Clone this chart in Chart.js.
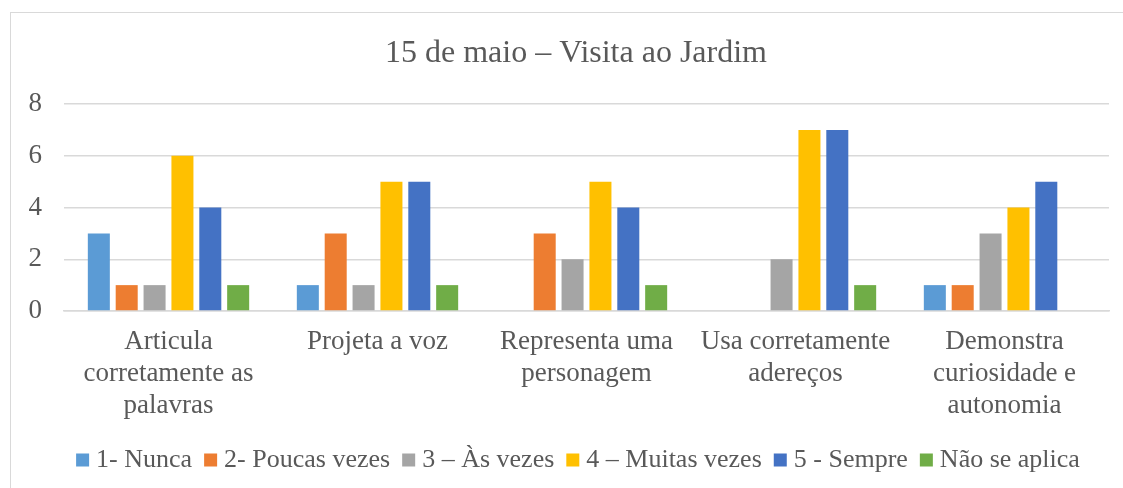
<!DOCTYPE html>
<html>
<head>
<meta charset="utf-8">
<script src="https://cdn.jsdelivr.net/npm/chart.js@4/dist/chart.umd.min.js"></script>
<style>
  html, body { margin: 0; padding: 0; background: #fff; overflow: hidden; width: 1123px; height: 488px; }
  #wrap { position: absolute; left: 10px; top: 12px; width: 1130px; height: 476px;
          border-left: 1.5px solid #D9D9D9; border-top: 1.5px solid #D9D9D9; box-sizing: border-box; }
  canvas { display: block; }
</style>
</head>
<body>
<div id="wrap"><canvas id="c" width="1130" height="476"></canvas></div>
<script>
const titleText = '15 de maio \u2013 Visita ao Jardim';
const categories = [
  ['Articula', 'corretamente as', 'palavras'],
  ['Projeta a voz'],
  ['Representa uma', 'personagem'],
  ['Usa corretamente', 'adere\u00e7os'],
  ['Demonstra', 'curiosidade e', 'autonomia']
];
const seriesNames = ['1- Nunca', '2- Poucas vezes', '3 \u2013 \u00c0s vezes', '4 \u2013 Muitas vezes', '5 - Sempre', 'N\u00e3o se aplica'];
const nunca        = [3, 1, 0, 0, 1];
const poucasVezes  = [1, 3, 3, 0, 1];
const asVezes      = [1, 1, 2, 2, 3];
const muitasVezes  = [6, 5, 5, 7, 4];
const sempre       = [4, 5, 4, 7, 5];
const naoSeAplica  = [1, 1, 1, 1, 0];
const yTicks = [0, 2, 4, 6, 8];

const colors = ['#5B9BD5', '#ED7D31', '#A5A5A5', '#FFC000', '#4472C4', '#70AD47'];
const seriesData = [nunca, poucasVezes, asVezes, muitasVezes, sempre, naoSeAplica];
const FONT = "'Liberation Serif', 'Times New Roman', serif";
const TXT = '#595959';

const textPlugin = {
  id: 'titleAndLegend',
  afterDraw(chart) {
    const ctx = chart.ctx;
    ctx.save();
    // title
    ctx.font = '32px ' + FONT;
    ctx.textBaseline = 'middle';
    ctx.textAlign = 'center';
    ctx.fillStyle = TXT;
    ctx.fillText(titleText, chart.width / 2, 41);
    // legend
    ctx.font = '26px ' + FONT;
    ctx.textAlign = 'left';
    const box = 13, gapBT = 7, gapItems = 12;
    const items = chart.data.datasets.map(d => ({ label: d.label, color: d.backgroundColor, w: ctx.measureText(d.label).width }));
    let total = items.reduce((s, it) => s + box + gapBT + it.w, 0) + gapItems * (items.length - 1);
    let x = chart.width / 2 + 2 - total / 2;
    const cy = chart.height - 29;
    items.forEach(it => {
      ctx.fillStyle = it.color;
      ctx.fillRect(x, cy - box / 2, box, box);
      x += box + gapBT;
      ctx.fillStyle = TXT;
      ctx.fillText(it.label, x, cy);
      x += it.w + gapItems;
    });
    ctx.restore();
  }
};

function build() {
  new Chart(document.getElementById('c'), {
    type: 'bar',
    data: {
      labels: categories,
      datasets: seriesNames.map((n, i) => ({
        label: n,
        data: seriesData[i],
        backgroundColor: colors[i],
        borderWidth: 0,
        categoryPercentage: 0.8,
        barPercentage: 0.79
      }))
    },
    options: {
      responsive: false,
      animation: false,
      devicePixelRatio: 1,
      layout: { padding: { left: 0, right: 32, top: 91, bottom: 48 } },
      plugins: {
        legend: { display: false },
        tooltip: { enabled: false },
        title: { display: false }
      },
      scales: {
        x: {
          grid: { display: false, drawTicks: false },
          border: { display: true, color: '#D9D9D9', width: 1.5 },
          ticks: { color: TXT, font: { family: FONT, size: 27, lineHeight: 1.185 }, padding: 15, maxRotation: 0, autoSkip: false },
          afterFit(s) { s.height = 130; }
        },
        y: {
          min: 0, max: 8,
          afterBuildTicks(s) { s.ticks = yTicks.map(v => ({ value: v })); },
          grid: { color: '#D9D9D9', lineWidth: 1.5, drawTicks: false },
          border: { display: false },
          ticks: { color: TXT, font: { family: FONT, size: 27 }, padding: 22 },
          afterFit(s) { s.width = 53; }
        }
      }
    },
    plugins: [textPlugin]
  });
}
if (document.fonts && document.fonts.load) {
  Promise.all([document.fonts.load("27px 'Liberation Serif'"), document.fonts.load("32px 'Liberation Serif'")])
    .then(build, build);
} else { build(); }
</script>
</body>
</html>
